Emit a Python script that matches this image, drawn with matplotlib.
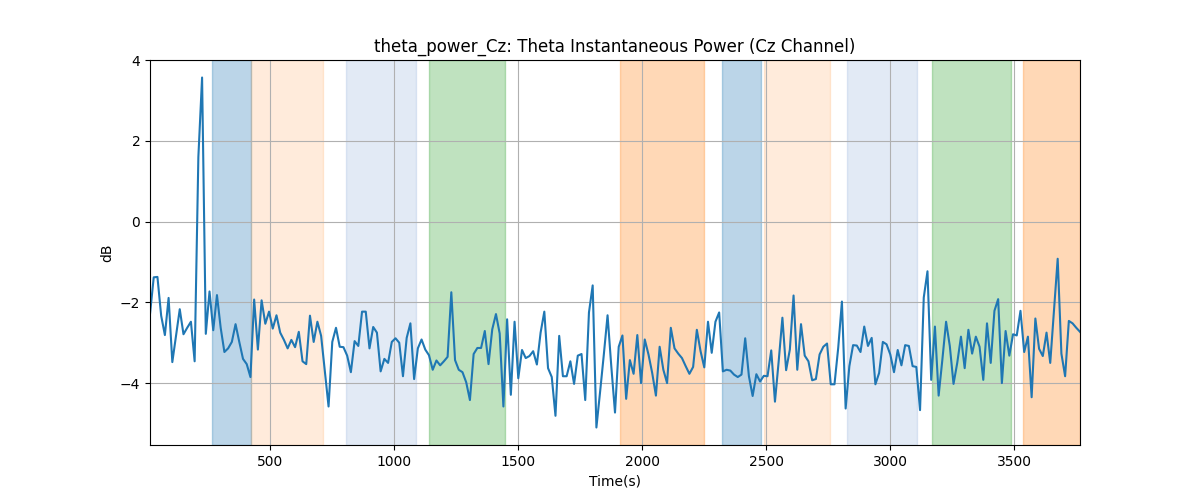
import numpy as np
import matplotlib
matplotlib.use("Agg")
import matplotlib.pyplot as plt

# Tempo (s): uma amostra a cada 15 s
tempo = np.arange(15, 3766, 15)

# Potência theta (dB)
potencia_db = [
    -2.29, -1.38, -1.37, -2.33, -2.81, -1.89, -3.48, -2.83, -2.17, -2.79,
    -2.63, -2.48, -3.46, 1.6, 3.57, -2.78, -1.73, -2.69, -1.82, -2.63,
    -3.23, -3.14, -2.98, -2.54, -2.98, -3.40, -3.53, -3.85, -1.93, -3.17,
    -1.95, -2.53, -2.23, -2.65, -2.32, -2.75, -2.93, -3.14, -2.93, -3.11,
    -2.73, -3.46, -3.53, -2.33, -2.98, -2.48, -2.83, -3.71, -4.58, -2.98,
    -2.63, -3.10, -3.11, -3.32, -3.73, -2.96, -3.08, -2.23, -2.23, -3.14,
    -2.61, -2.75, -3.71, -3.40, -3.50, -2.98, -2.89, -3.00, -3.83, -2.88,
    -2.52, -3.90, -3.14, -2.92, -3.17, -3.31, -3.67, -3.44, -3.56, -3.46,
    -3.35, -1.75, -3.43, -3.67, -3.73, -3.98, -4.42, -3.28, -3.13, -3.13,
    -2.71, -3.53, -2.67, -2.29, -2.77, -4.58, -2.42, -4.29, -2.48, -3.88,
    -3.18, -3.38, -3.33, -3.21, -3.54, -2.75, -2.23, -3.63, -3.85, -4.81,
    -2.83, -3.83, -3.83, -3.46, -4.02, -3.32, -3.28, -4.42, -2.25, -1.58,
    -5.10, -4.21, -3.29, -2.32, -3.58, -4.73, -3.10, -2.82, -4.39, -3.43,
    -3.77, -2.81, -4.00, -2.92, -3.29, -3.75, -4.31, -3.10, -3.67, -4.00,
    -2.63, -3.14, -3.27, -3.38, -3.58, -3.77, -3.60, -2.68, -3.21, -3.61,
    -2.48, -3.25, -2.48, -2.25, -3.71, -3.67, -3.69, -3.79, -3.85, -3.79,
    -2.89, -3.83, -4.32, -3.78, -3.96, -3.82, -3.83, -3.19, -4.46, -3.46,
    -2.38, -3.68, -3.17, -1.83, -3.67, -2.54, -3.32, -3.46, -3.93, -3.90,
    -3.29, -3.10, -3.02, -4.03, -4.03, -3.13, -1.98, -4.63, -3.58, -3.06,
    -3.07, -3.23, -2.60, -3.08, -2.88, -4.03, -3.75, -2.98, -3.04, -3.29,
    -3.73, -3.18, -3.56, -3.06, -3.08, -3.58, -3.60, -4.67, -1.88, -1.23,
    -3.92, -2.60, -4.31, -3.42, -2.48, -3.08, -4.02, -3.50, -2.85, -3.63,
    -2.68, -3.27, -2.85, -3.10, -3.92, -2.52, -3.50, -2.21, -1.92, -4.00,
    -2.71, -3.32, -2.79, -2.82, -2.21, -3.23, -2.85, -4.35, -2.40, -3.15,
    -3.33, -2.75, -3.50, -2.21, -0.92, -3.27, -3.83, -2.46, -2.52, -2.63,
    -2.73,
]

# Intervalos dos blocos (início, fim) e tipo
blocos_inicio = [266, 421, 805, 1140, 1910, 2323, 2489, 2825, 3169, 3536]
blocos_fim = [421, 711, 1086, 1446, 2247, 2477, 2757, 3106, 3485, 3765]
blocos_tipo = ['A', 'B', 'C', 'D', 'E', 'A', 'B', 'C', 'D', 'E']

estilo_bloco = {
    'A': ('tab:blue', 0.3),
    'B': ('tab:orange', 0.15),
    'C': ('#7096D1', 0.2),
    'D': ('tab:green', 0.3),
    'E': ('tab:orange', 0.3),
}


def plotar_theta():
    fig, ax = plt.subplots(figsize=(12, 5))

    # Faixas de cada bloco
    for ini, fim, tipo in zip(blocos_inicio, blocos_fim, blocos_tipo):
        cor, alfa = estilo_bloco[tipo]
        ax.axvspan(ini, fim, color=cor, alpha=alfa)

    # Potência instantânea
    ax.plot(tempo, potencia_db, color='tab:blue')

    ax.set_xlim(tempo[0], tempo[-1])
    ax.set_xlabel('Time(s)')
    ax.set_ylabel('dB')
    ax.set_title('theta_power_Cz: Theta Instantaneous Power (Cz Channel)')
    ax.grid(True)

    fig.savefig('out.png', dpi=100)


if __name__ == "__main__":
    plotar_theta()
